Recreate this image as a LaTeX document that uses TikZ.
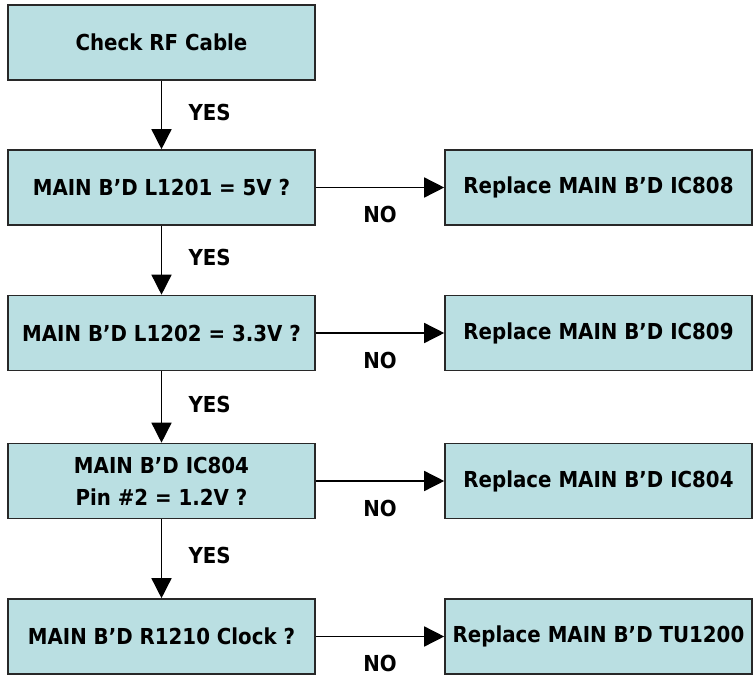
\documentclass[tikz,border=0pt]{standalone}
\usepackage{fontspec}
\setmainfont{DejaVu Sans}[FakeStretch=0.9]
\usepackage{tikz}
\usetikzlibrary{
	arrows.meta,
	positioning
}
\usepackage{xcolor}
\definecolor{boxfill}{RGB}{186,223,226}
\definecolor{boxline}{RGB}{40,40,40}

\begin{document}
\begin{tikzpicture}[
		x=1pt,y=-1pt,
		>={Triangle[length=20pt,width=20pt]},
		check/.style={
			draw=boxline,
			fill=boxfill,
			line width=1.6pt,
			minimum width=307pt,
			minimum height=75pt,
			align=center,
			font=\bfseries\fontsize{22}{32}\selectfont
		},
		flow/.style={
			->,
			line width=1.5pt
		},
		yes/.style={
			anchor=west,
			xshift=23pt,
			yshift=3pt,
			font=\bfseries\fontsize{22}{26}\selectfont
		},
		no/.style={
			yshift=-27pt,
			font=\bfseries\fontsize{22}{26}\selectfont
		}
		]
		\useasboundingbox (0,0) rectangle (753,677);
		
		% Checks
		\node[check] (rf) at (161.5,42.5) {Check RF Cable};
		\node[check] (l1201) at (161.5,187.5) {MAIN B’D L1201 = 5V ?};
		\node[check] (l1202) at (161.5,333) {MAIN B’D L1202 = 3.3V ?};
		\node[check] (ic804) at (161.5,481) {MAIN B’D IC804\\Pin \#2 = 1.2V ?};
		\node[check] (r1210) at (161.5,636.5) {MAIN B’D R1210 Clock ?};
		
		% Repairs
		\node[check] (fix808) at (598.5,187.5) {Replace MAIN B’D IC808};
		\node[check] (fix809) at (598.5,333) {Replace MAIN B’D IC809};
		\node[check] (fix804) at (598.5,481) {Replace MAIN B’D IC804};
		\node[check] (fixtu) at (598.5,636.5) {Replace MAIN B’D TU1200};
		
		% YES path
		\draw[flow] (rf) -- node[yes] {YES} (l1201);
		\draw[flow] (l1201) -- node[yes] {YES} (l1202);
		\draw[flow] (l1202) -- node[yes] {YES} (ic804);
		\draw[flow] (ic804) -- node[yes] {YES} (r1210);
		
		% NO path
		\draw[flow] (l1201) -- node[no] {NO} (fix808);
		\draw[flow] (l1202) -- node[no] {NO} (fix809);
		\draw[flow] (ic804) -- node[no] {NO} (fix804);
		\draw[flow] (r1210) -- node[no] {NO} (fixtu);
		
	\end{tikzpicture}
\end{document}
